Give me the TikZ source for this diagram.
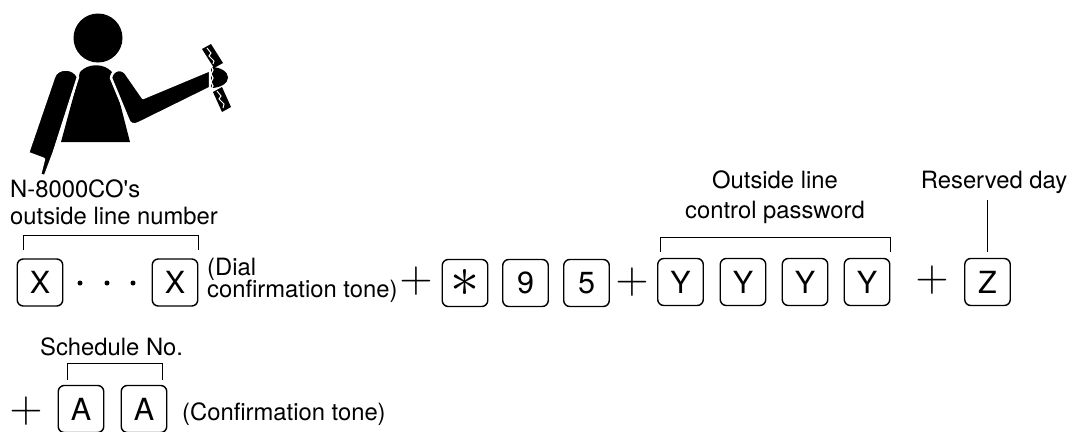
\documentclass[tikz,border=0pt]{standalone}
\usepackage{fontspec}
\setmainfont{TeX Gyre Heros}
\newcommand{\bigplus}{\scalebox{2.2}{\fontsize{20}{20}\selectfont$+$}}
\newcommand{\starkey}{\scalebox{2.8}{\fontsize{20}{20}\selectfont$\ast$}}
\begin{document}
\begin{tikzpicture}[x=1pt,y=-1pt,
  key/.style={draw,line width=1.4pt,rounded corners=6pt,minimum width=45.5pt,minimum height=47pt,inner sep=0pt,font=\fontsize{30.5}{31}\selectfont},
  lbl/.style={inner sep=0pt,font=\fontsize{23.8}{26}\selectfont},
  plussign/.style={inner sep=0pt},
  brace/.style={line width=0.9pt},
  dot/.style={circle,fill,inner sep=0pt,minimum size=5pt}]
\useasboundingbox (0,0) rectangle (1078,431);

% --- person holding a handset ---
\fill (98,38) circle (24.5);
\fill (80,72) .. controls (88,63) and (104,63) .. (112,72) -- (130,142) -- (61,142) -- cycle;
\filldraw[draw=white,line width=2.5pt,line join=round]
  (54,77) .. controls (57,67) and (74,67) .. (78,77) -- (54,152) -- (45,176)
  -- (40,175) -- (44,159) -- (28,153) -- cycle;
\filldraw[draw=white,line width=2.5pt,line join=round]
  (111,78) .. controls (112,69) and (123,67) .. (127,75) -- (143,98) -- (210,70)
  -- (210,88) -- (139,123) .. controls (134,126) and (129,124) .. (128,119) -- cycle;
\fill (211,67) arc[start angle=-90,end angle=90,x radius=17,y radius=10.5] -- cycle;
\draw[white,line width=1.2pt] (211,66) -- (213,70) -- (211,74) -- (213,78) -- (211,82) -- (213,86) -- (211,89);
\fill (202,49) -- (211,44) -- (223,63) -- (214,68) -- cycle;
\draw[white,line width=1pt] (207,48) -- (211,53) -- (209,56) -- (214,61) -- (213,64);
\fill (213,92) -- (222,87) -- (231,107) -- (222,112) -- cycle;
\draw[white,line width=1pt] (217,91) -- (221,96) -- (219,99) -- (224,104) -- (223,108);

% --- first row: outside line number, access code, password, day ---
\node[lbl,anchor=base west] (co1) at (10,197) {N-8000CO\textquotesingle s};
\node[lbl,anchor=base west] (co2) at (10,224) {outside line number};

\node[key] (X1) at (40,282.5) {X};
\node[dot] (d1) at (80,283) {};
\node[dot] (d2) at (107,283) {};
\node[dot] (d3) at (133,283) {};
\node[key] (X2) at (175,282.5) {X};
\draw[brace] ([xshift=7pt,yshift=8pt]X1.north west) -- ++(0,-15) -| ([yshift=8pt]X2.north east);

\node[lbl,anchor=base west] (dial1) at (207,275) {(Dial};
\node[lbl,anchor=base west] (dial2) at (207,297) {confirmation tone)};

\node[plussign] (p1) at (416,281) {\bigplus};
\node[key] (st) at (465,283) {\starkey};
\node[key] (n9) at (525.5,283) {9};
\node[key] (n5) at (586.5,283) {5};
\node[plussign] (p2) at (632,282) {\bigplus};

\node[lbl,anchor=base] (pw1) at (775,188) {Outside line};
\node[lbl,anchor=base] (pw2) at (775,218) {control password};
\node[key] (Y1) at (680.5,282) {Y};
\node[key] (Y2) at (743,282) {Y};
\node[key] (Y3) at (805,282) {Y};
\node[key] (Y4) at (867,282) {Y};
\draw[brace] ([xshift=3pt,yshift=6pt]Y1.north west) -- ++(0,-14) -| ([yshift=6pt]Y4.north east);

\node[plussign] (p3) at (932,280) {\bigplus};
\node[lbl,anchor=base] (rd) at (994,188) {Reserved day};
\node[key] (Z) at (987.5,282) {Z};
\draw[brace] ([yshift=-12pt]rd.base -| Z.north) -- ([yshift=6pt]Z.north);

% --- second row: schedule number ---
\node[lbl,anchor=base west] (sch) at (40,355) {Schedule No.};
\node[plussign] (p4) at (26,411) {\bigplus};
\node[key] (A1) at (81,409) {A};
\node[key] (A2) at (144,409) {A};
\draw[brace] ([xshift=10pt,yshift=5pt]A1.north west) -- ++(0,-16) -| ([xshift=-5pt,yshift=5pt]A2.north east);
\node[lbl,anchor=base west] (ct) at (182,420) {(Confirmation tone)};
\end{tikzpicture}
\end{document}
